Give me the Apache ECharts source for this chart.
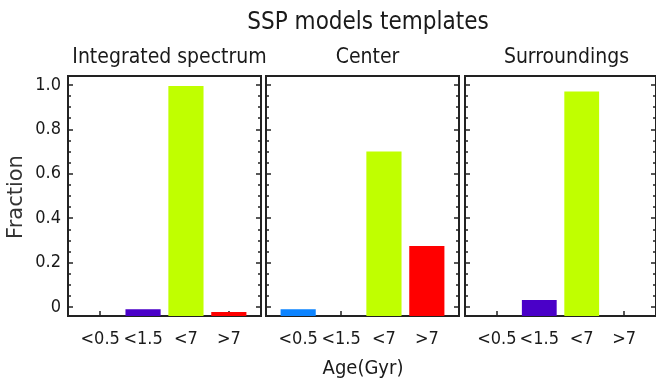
<!DOCTYPE html>
<html>
<head>
<meta charset="utf-8">
<script src="https://cdn.jsdelivr.net/npm/echarts@6/dist/echarts.min.js"></script>
<style>
html, body { margin: 0; padding: 0; background: #fff; }
#main { width: 656px; height: 387px; }
</style>
</head>
<body>
<div id="main"></div>
<script>
// data
var ageBins = ['<0.5', '<1.5', '<7', '>7'];
var binPos = [1, 2, 3, 4];
var panelTitles = ['Integrated spectrum', 'Center', 'Surroundings'];
// bar tops (fraction), null = no bar
var integrated = [null, -0.01, 0.995, -0.022];
var center = [-0.01, null, 0.70, 0.275];
var surroundings = [null, 0.032, 0.97, null];
var binColors = ['#0d84ff', '#4a00c8', '#c0ff00', '#ff0000'];
var yTicks = [0, 0.2, 0.4, 0.6, 0.8, 1.0];
var yMinor = [0.05, 0.1, 0.15, 0.25, 0.3, 0.35, 0.45, 0.5, 0.55, 0.65, 0.7, 0.75, 0.85, 0.9, 0.95];

var FONT = "'Liberation Sans Narrow', 'DejaVu Sans Condensed', sans-serif";
var yMin = -0.04, yMax = 1.04;
var xMin = 0.25, xMax = 4.75;
var halfBar = 0.41;

var panels = [integrated, center, surroundings];
var gridLeft = [68, 266, 465];
var gridW = 193;

var myChart = echarts.init(document.getElementById('main'));

var grids = [], xAxes = [], yAxes = [], series = [], titles = [];

titles.push({
	text : 'SSP models templates',
	left : 363,
	top : 6,
	textAlign : 'center',
	textStyle : { fontFamily : FONT, fontSize : 24, fontWeight : 'normal', color : '#1a1a1a' }
});

function renderBar(params, api) {
	var x = api.value(0), v = api.value(1);
	var p0 = api.coord([x - halfBar, v]);
	var p1 = api.coord([x + halfBar, yMin]);
	return {
		type : 'rect',
		shape : { x : p0[0], y : p0[1], width : p1[0] - p0[0], height : p1[1] - p0[1] },
		style : api.style()
	};
}

for (var i = 0; i < panels.length; i++) {
	grids.push({
		left : gridLeft[i], top : 76, width : gridW, height : 240,
		show : true, borderColor : '#222', borderWidth : 2, backgroundColor : 'transparent'
	});
	titles.push({
		text : panelTitles[i],
		left : gridLeft[i] + gridW / 2,
		top : 42,
		textAlign : 'center',
		textStyle : { fontFamily : FONT, fontSize : 21, fontWeight : 'normal', color : '#1a1a1a' }
	});
	xAxes.push({
		gridIndex : i, type : 'value', min : xMin, max : xMax,
		position : 'bottom',
		axisLine : { show : false, onZero : false },
		splitLine : { show : false },
		axisTick : { show : true, inside : true, length : 5, customValues : binPos, lineStyle : { color : '#222', width : 1.5 } },
		axisLabel : {
			customValues : binPos, margin : 14,
			fontFamily : FONT, fontSize : 18, color : '#1a1a1a',
			formatter : function(val) { return ageBins[Math.round(val) - 1]; }
		}
	});
	// left major, left minor, right major, right minor
	var sides = [['left', yTicks, 5], ['left', yMinor, 3], ['right', yTicks, 5], ['right', yMinor, 3]];
	for (var s = 0; s < sides.length; s++) {
		yAxes.push({
			gridIndex : i, type : 'value', min : yMin, max : yMax,
			position : sides[s][0],
			axisLine : { show : false, onZero : false },
			splitLine : { show : false },
			axisTick : { show : true, inside : true, length : sides[s][2], customValues : sides[s][1], lineStyle : { color : '#222', width : 1.5 } },
			axisLabel : {
				show : (i === 0 && s === 0),
				customValues : yTicks, margin : 7,
				fontFamily : FONT, fontSize : 18, color : '#1a1a1a',
				formatter : function(val) { return val === 0 ? '0' : val.toFixed(1); }
			}
		});
	}
	var data = [];
	for (var k = 0; k < ageBins.length; k++) {
		if (panels[i][k] !== null) {
			data.push({ value : [binPos[k], panels[i][k]], itemStyle : { color : binColors[k] } });
		}
	}
	series.push({
		type : 'custom',
		xAxisIndex : i,
		yAxisIndex : i * 4,
		renderItem : renderBar,
		data : data,
		clip : true,
		silent : true
	});
}

var option = {
	animation : false,
	title : titles,
	grid : grids,
	xAxis : xAxes,
	yAxis : yAxes,
	series : series,
	graphic : [{
		type : 'text',
		x : 17, y : 197,
		rotation : Math.PI / 2,
		style : {
			text : 'Fraction', fontFamily : "'DejaVu Sans', sans-serif", fontSize : 21, fill : '#333',
			textAlign : 'center', textVerticalAlign : 'middle'
		}
	}, {
		type : 'text',
		x : 363, y : 369,
		style : {
			text : 'Age(Gyr)', fontFamily : FONT, fontSize : 20, fill : '#1a1a1a',
			textAlign : 'center', textVerticalAlign : 'middle'
		}
	}]
};
myChart.setOption(option);
</script>
</body>
</html>
